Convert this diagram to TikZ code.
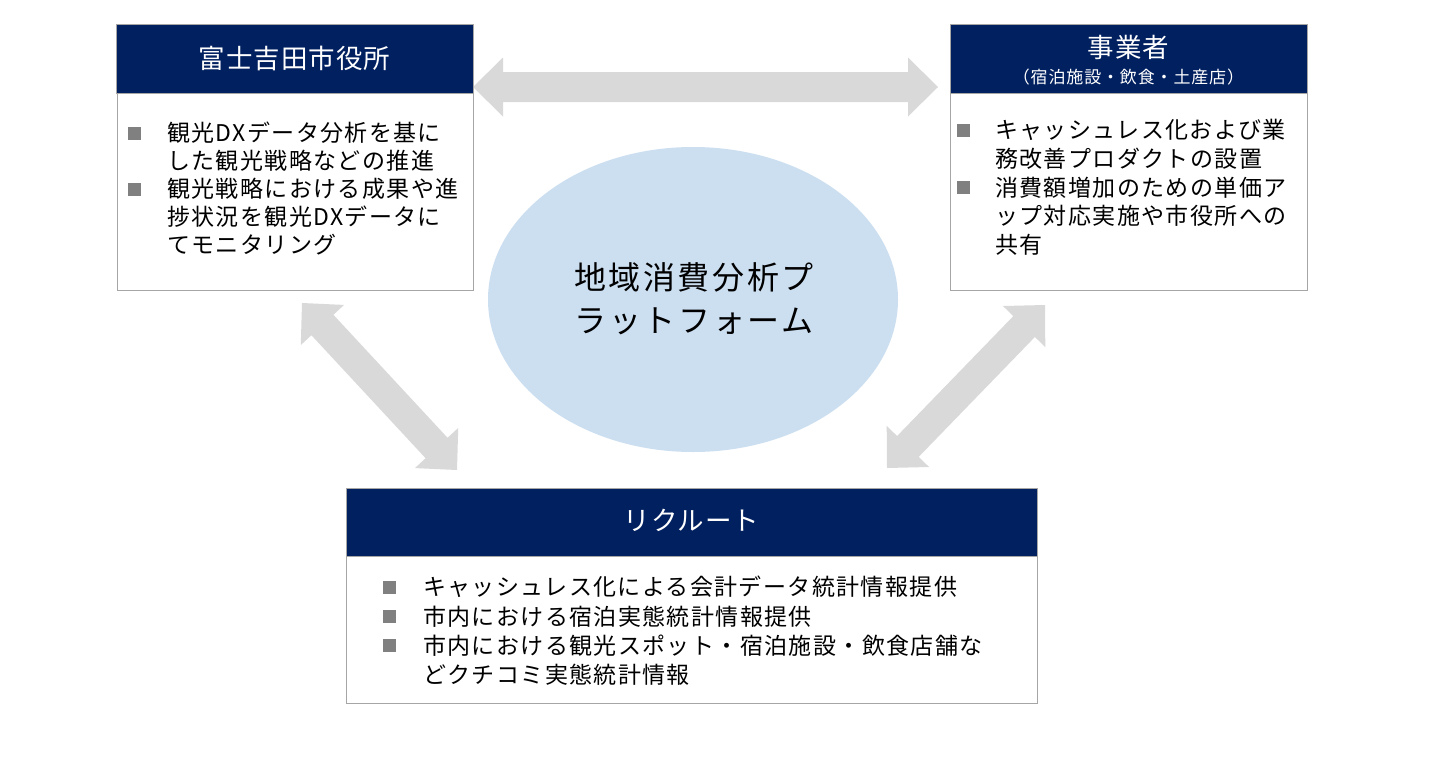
\documentclass[tikz,border=0pt]{standalone}
\usepackage{fontspec}
\setmainfont{Noto Sans CJK JP}[LetterSpace=6]
\newfontfamily\hdrfont{Noto Sans CJK JP}[LetterSpace=4]
\newfontfamily\subfont{Noto Sans CJK JP}[LetterSpace=5]
\newfontfamily\ellfont{Noto Sans CJK JP}[LetterSpace=8]
\usetikzlibrary{calc,shapes.geometric}
\definecolor{hdrblue}{HTML}{002060}
\definecolor{boxline}{HTML}{A6A6A6}
\definecolor{arrowfill}{HTML}{D9D9D9}
\definecolor{ellfill}{HTML}{CCDFF1}
\definecolor{bulgray}{HTML}{808080}
\newcommand\bul{\textcolor{bulgray}{\rule[2.2pt]{13pt}{13pt}}}
\newcommand\blockarrow[2]{%
 \fill[arrowfill] (#1)
  -- ($(#1)!30pt!(#2)!29.5pt!90:(#2)$)
  -- ($(#1)!30pt!(#2)!15pt!90:(#2)$)
  -- ($(#2)!30pt!(#1)!15pt!-90:(#1)$)
  -- ($(#2)!30pt!(#1)!29.5pt!-90:(#1)$)
  -- (#2)
  -- ($(#2)!30pt!(#1)!29.5pt!90:(#1)$)
  -- ($(#2)!30pt!(#1)!15pt!90:(#1)$)
  -- ($(#1)!30pt!(#2)!15pt!-90:(#2)$)
  -- ($(#1)!30pt!(#2)!29.5pt!-90:(#2)$)
  -- cycle;}
\begin{document}
\begin{tikzpicture}[x=1pt,y=-1pt,
  hdr/.style={fill=hdrblue,draw=boxline,line width=1pt,anchor=north west,inner sep=0pt},
  bodybox/.style={fill=white,draw=boxline,line width=1.2pt,anchor=north west,inner sep=0pt},
  hdrtext/.style={text=white,inner sep=0pt},
  bodytext/.style={anchor=base west,inner sep=0pt}]
\useasboundingbox (0,0) rectangle (1433,761);
\fill[white] (0,0) rectangle (1433,761);

% arrows
\coordinate (topL) at (473,87);
\coordinate (topR) at (938,87);
\coordinate (dlA) at (302,303);
\coordinate (dlB) at (457,470);
\coordinate (drA) at (1045,305);
\coordinate (drB) at (887,468);
\blockarrow{topL}{topR}
\blockarrow{dlA}{dlB}
\blockarrow{drA}{drB}

% ellipse
\node[ellipse,fill=ellfill,minimum width=410,minimum height=305,inner sep=0pt] (platform) at (693,299.5) {};
\node[inner sep=0pt,align=center,font=\ellfont\fontsize{32}{43}\selectfont] (platformtext) at (694,298.5) {地域消費分析プ\\ラットフォーム};

% city hall
\node[bodybox,minimum width=356,minimum height=197] (citybody) at (117,93) {};
\node[hdr,minimum width=357,minimum height=69] (cityhdr) at (116,24) {};
\node[hdrtext,font=\hdrfont\fontsize{26.5}{30}\selectfont] (citytitle) at (294.5,58.5) {富士吉田市役所};
\node[bodytext,font=\fontsize{23}{28}\selectfont] (citytext) at (128,141.8) {%
\begin{tabular}[t]{@{}p{39pt}@{}l@{}}
\bul & 観光DXデータ分析を基に\\
 & した観光戦略などの推進\\
\bul & 観光戦略における成果や進\\
 & 捗状況を観光DXデータに\\
 & てモニタリング
\end{tabular}};

% businesses
\node[bodybox,minimum width=357,minimum height=197] (bizbody) at (950,93) {};
\node[hdr,minimum width=357,minimum height=69] (bizhdr) at (950,24) {};
\node[hdrtext,font=\hdrfont\fontsize{26.5}{30}\selectfont] (biztitle) at (1128.5,47) {事業者};
\node[hdrtext,font=\subfont\fontsize{17}{20}\selectfont] (bizsub) at (1128.5,77) {（宿泊施設・飲食・土産店）};
\node[bodytext,font=\fontsize{23}{28.7}\selectfont] (biztext) at (957,138.8) {%
\begin{tabular}[t]{@{}p{38pt}@{}l@{}}
\bul & キャッシュレス化および業\\
 & 務改善プロダクトの設置\\
\bul & 消費額増加のための単価ア\\
 & ップ対応実施や市役所への\\
 & 共有
\end{tabular}};

% recruit
\node[bodybox,minimum width=691,minimum height=147] (recbody) at (346,556) {};
\node[hdr,minimum width=691,minimum height=68] (rechdr) at (346,488) {};
\node[hdrtext,font=\hdrfont\fontsize{26.5}{30}\selectfont] (rectitle) at (691.5,520) {リクルート};
\node[bodytext,font=\fontsize{23}{29.3}\selectfont] (rectext) at (383,595.8) {%
\begin{tabular}[t]{@{}p{40pt}@{}l@{}}
\bul & キャッシュレス化による会計データ統計情報提供\\
\bul & 市内における宿泊実態統計情報提供\\
\bul & 市内における観光スポット・宿泊施設・飲食店舗な\\
 & どクチコミ実態統計情報
\end{tabular}};
\end{tikzpicture}
\end{document}
